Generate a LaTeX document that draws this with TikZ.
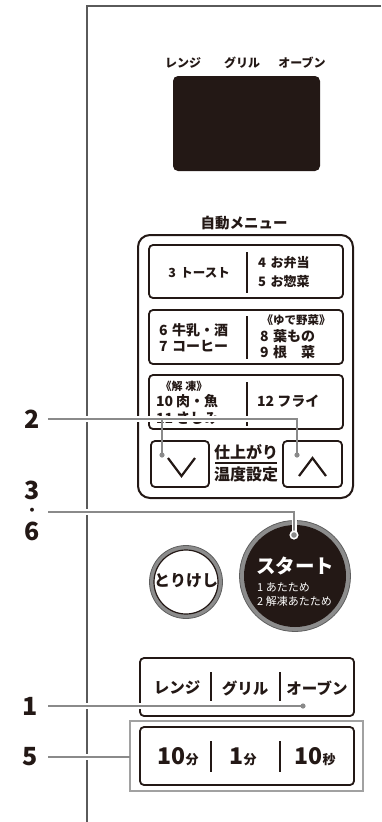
\documentclass[tikz,border=0pt]{standalone}
\usepackage{fontspec}
\setmainfont{Noto Sans CJK JP}
\definecolor{ink}{HTML}{231815}
\definecolor{lead}{HTML}{8A8A8A}
\definecolor{panel}{HTML}{5A5A5A}
\definecolor{ring}{HTML}{8C8C8C}
\definecolor{ringdark}{HTML}{5E5E5E}
\newcommand{\gp}{\hspace{4.5pt}}
\tikzset{
  btn/.style={draw=ink, line width=1.8pt, rounded corners=4pt},
  divider/.style={draw=ink, line width=1.8pt},
  leader/.style={draw=lead, line width=1.4pt},
  halo/.style={draw=white, line width=6pt},
  txt/.style={inner sep=0pt, text=ink},
  bt/.style={txt, font=\bfseries\fontsize{#1}{#1}\selectfont},
  wt/.style={inner sep=0pt, text=white, font=\bfseries\fontsize{#1}{#1}\selectfont},
  lbl/.style={txt, font=\bfseries\fontsize{25}{25}\selectfont},
  leaddot/.style={fill=lead},
}
\begin{document}
\begin{tikzpicture}[x=1pt,y=-1pt]
\useasboundingbox (0,0) rectangle (381,822);
% panel edge
\draw[panel, line width=1.2pt] (381,6) -- (87,6) -- (87,822);

% display
\node[bt=12] (dl1) at (183,63) {レンジ};
\node[bt=12] (dl2) at (242,63) {グリル};
\node[bt=12] (dl3) at (302,63) {オーブン};
\node[fill=ink, rounded corners=5pt, minimum width=147pt, minimum height=95pt, inner sep=0pt] (disp) at (246.5,123.5) {};

% auto menu
\node[bt=14.5] (auto) at (244,223) {自動メニュー};
\draw[ink, line width=2pt, rounded corners=12pt] (138,235) rectangle (353,498);

% button row 1
\draw[btn] (149,245) rectangle (343,298);
\draw[divider] (247,252) -- (247,293);
\node[bt=12.5] (b3) at (199,273) {3\gp トースト};
\node[bt=13, anchor=west] (b4) at (258,263) {4\gp お弁当};
\node[bt=13, anchor=west] (b5) at (258,282) {5\gp お惣菜};

% button row 2
\draw[btn] (149,310) rectangle (343,364);
\draw[divider] (247,316) -- (247,359);
\node[bt=14, anchor=west] (b6) at (159,330) {6\gp 牛乳・酒};
\node[bt=14, anchor=west] (b7) at (159,346) {7\gp コーヒー};
\node[bt=11.5] (yude) at (296,320) {《ゆで野菜》};
\node[bt=14, anchor=west] (b8) at (260,336) {8\gp 葉もの};
\node[bt=14, anchor=west] (b9) at (260,352) {9\gp 根　菜};

% button row 3
\draw[btn] (149,375) rectangle (343,429);
\draw[divider] (247,382) -- (247,426);
\node[bt=11] (kaito) at (184,386) {《解\hspace{3pt}凍》};
\node[bt=14, anchor=west] (b10) at (156,401) {10\hspace{3pt}肉・魚};
\node[bt=14, anchor=west] (b11) at (156,418) {11\hspace{3pt}さしみ};
\node[bt=14, anchor=west] (b12) at (257,401) {12\hspace{3pt}フライ};

% temperature buttons
\draw[btn] (151,441) rectangle (209,487);
\draw[btn] (283,441) rectangle (342,487);
\draw[ink, line width=2.2pt] (168,458) -- (181.5,476) -- (195,458);
\draw[ink, line width=2.2pt] (299,476) -- (312.5,458) -- (326,476);
\node[bt=16] (shiage) at (246,452) {仕上がり};
\draw[ink, line width=1.5pt] (215,463) -- (277,463);
\node[bt=16] (ondo) at (246,474) {温度設定};

% leader 2
\node[lbl] (n2) at (32,419) {2};
\coordinate (d2a) at (162,455);
\coordinate (d2b) at (297,455);
\coordinate (c2a) at (162,419);
\coordinate (c2b) at (297,419);
\draw[halo] ([xshift=8pt]n2.east) -- (c2b);
\draw[leader] ([xshift=8pt]n2.east) -- (c2b) -- (d2b);
\draw[leader] (c2a) -- (d2a);
\fill[leaddot] (d2a) circle (2.6pt);
\fill[leaddot] (d2b) circle (2.6pt);

% torikeshi
\node[circle, minimum size=73pt, inner sep=0pt, fill=ring, draw=ringdark, line width=0.8pt] (clrring) at (186,582) {};
\node[circle, minimum size=64pt, inner sep=0pt, fill=white, draw=ink, line width=1.2pt] (clr) at (186,582) {};
\node[bt=16] (clrt) at (186,581) {とりけし};

% start
\node[circle, minimum size=111pt, inner sep=0pt, fill=ring, draw=ringdark, line width=0.8pt] (string) at (295,576) {};
\node[circle, minimum size=102pt, inner sep=0pt, fill=ink] (start) at (295,576) {};
\node[wt=19.5] (stt) at (295,566) {スタート};
\node[wt=10.5, anchor=west, font=\fontsize{11}{11}\selectfont] (st1) at (257,587) {1 あたため};
\node[wt=10.5, anchor=west, font=\fontsize{11}{11}\selectfont] (st2) at (257,601) {2 解凍あたため};

% leader 3・6
\node[lbl] (n3) at (32,490) {3};
\node[lbl, font=\bfseries\fontsize{14}{14}\selectfont] (ndot) at (32,512) {・};
\node[lbl] (n6) at (32,531) {6};
\coordinate (c36) at (294,512);
\coordinate (d36) at (294,535);
\draw[halo] (48,512) -- (c36);
\draw[draw=white, line width=5pt] (c36) -- (d36);
\draw[leader] (48,512) -- (c36) -- (d36);
\fill[white] (d36) circle (4.6pt);
\fill[leaddot] (d36) circle (2.8pt);

% mode buttons
\draw[btn] (140,658) rectangle (354,716);
\draw[divider] (211,672) -- (211,701);
\draw[divider] (280,672) -- (280,701);
\node[bt=15.5] (m1) at (177,688) {レンジ};
\node[bt=15.5] (m2) at (245,688) {グリル};
\node[bt=15.5] (m3) at (317,688) {オーブン};

% leader 1
\node[lbl] (n1) at (30,706) {1};
\coordinate (d1) at (303,706);
\draw[halo] (48,706) -- (d1);
\draw[leader] (48,706) -- (d1);
\fill[leaddot] (d1) circle (2.6pt);

% time buttons
\draw[draw=lead!80, line width=1.5pt] (130,721) rectangle (363,791);
\draw[btn] (140,727) rectangle (354,785);
\draw[divider] (211,741) -- (211,772);
\draw[divider] (280,741) -- (280,772);
\node[bt=23] (t1) at (178,757) {10{\fontsize{13}{13}\selectfont 分}};
\node[bt=23] (t2) at (243,757) {1{\fontsize{13}{13}\selectfont 分}};
\node[bt=23] (t3) at (315,757) {10{\fontsize{13}{13}\selectfont 秒}};

% leader 5
\node[lbl] (n5) at (30,757) {5};
\coordinate (e5) at (130,757);
\draw[halo] (48,757) -- (96,757);
\draw[leader] (48,757) -- (e5);
\end{tikzpicture}
\end{document}
